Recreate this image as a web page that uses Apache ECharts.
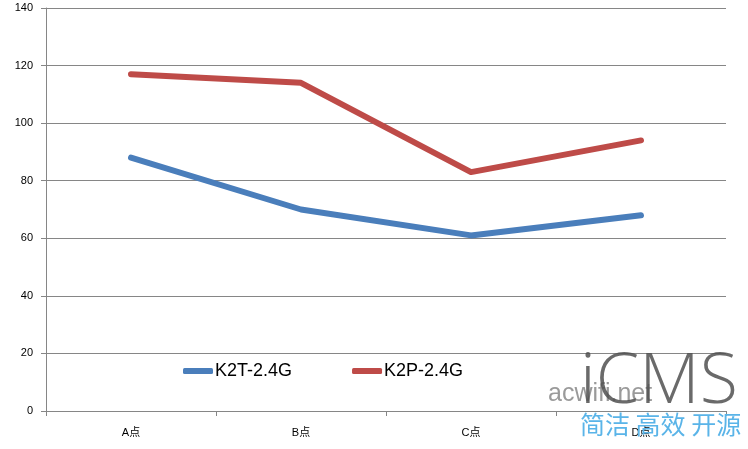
<!DOCTYPE html>
<html><head><meta charset="utf-8">
<script src="https://cdn.jsdelivr.net/npm/echarts@6/dist/echarts.min.js"></script>
<style>html,body{margin:0;padding:0;background:#fff}#c{width:748px;height:449px}</style>
</head><body><div id="c"></div>
<script>
var categories = ['A点', 'B点', 'C点', 'D点'];
var seriesNames = ['K2T-2.4G', 'K2P-2.4G'];
var k2t = [88, 70, 61, 68];
var k2p = [117, 114, 83, 94];
var yTicks = {min: 0, max: 140, interval: 20};

var chart = echarts.init(document.getElementById('c'));
var font = '"Liberation Sans", "Noto Sans CJK SC", sans-serif';
chart.setOption({
  animation: false,
  backgroundColor: '#fff',
  grid: {left: 46, right: 22, top: 8, bottom: 38},
  legend: {
    data: seriesNames, left: 178, top: 357, itemWidth: 30, itemHeight: 6, itemGap: 60,
    icon: 'roundRect',
    textStyle: {fontFamily: font, fontSize: 18, color: '#000', padding: [0,0,0,-3]}
  },
  xAxis: {
    type: 'category', data: categories, boundaryGap: true,
    axisLine: {lineStyle: {color: '#868686'}},
    axisTick: {show: true, length: 5, lineStyle: {color: '#868686'}},
    axisLabel: {fontFamily: font, fontSize: 11, color: '#000', margin: 16}
  },
  yAxis: {
    type: 'value', min: yTicks.min, max: yTicks.max, interval: yTicks.interval,
    axisLine: {show: true, lineStyle: {color: '#868686'}},
    axisTick: {show: true, length: 5, lineStyle: {color: '#868686'}},
    splitLine: {lineStyle: {color: '#868686'}},
    axisLabel: {fontFamily: font, fontSize: 11, color: '#000', margin: 13}
  },
  series: [
    {name: seriesNames[0], type: 'line', data: k2t, symbol: 'none',
     lineStyle: {width: 6, color: '#4A7EBB', cap: 'round', join: 'round'}, itemStyle: {color: '#4A7EBB'}},
    {name: seriesNames[1], type: 'line', data: k2p, symbol: 'none',
     lineStyle: {width: 6, color: '#BE4B48', cap: 'round', join: 'round'}, itemStyle: {color: '#BE4B48'}}
  ],
  graphic: [
    {type: 'text', left: 548, top: 382, z: 100, style: {text: 'acwifi.net', fontFamily: font, fontSize: 25, fill: 'rgba(120,120,120,0.75)'}},
    {type: 'text', left: 580, top: 348, z: 101, style: {text: 'iCMS', fontFamily: '"Open Sans", sans-serif', fontWeight: 300, fontSize: 70, fill: 'rgba(80,80,80,0.85)'}},
    {type: 'text', left: 580, top: 412, z: 101, style: {text: '简洁 高效 开源', fontFamily: '"Noto Sans CJK SC", sans-serif', fontSize: 25, fill: '#5AB4E8'}}
  ]
});
</script></body></html>
